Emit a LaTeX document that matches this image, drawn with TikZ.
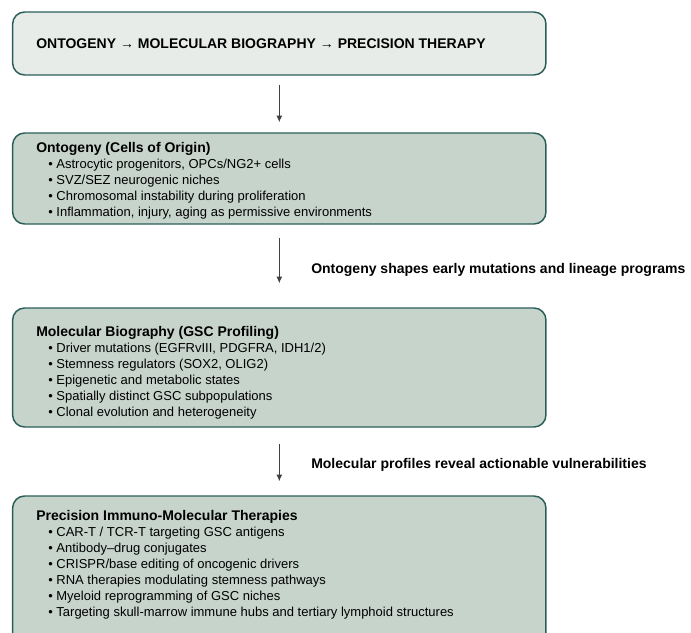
\documentclass[tikz,border=0pt]{standalone}
\usepackage{fontspec}
\setmainfont{Liberation Sans}
\usetikzlibrary{arrows.meta}
\definecolor{boxline}{HTML}{2C5E59}
\definecolor{topfill}{HTML}{E8ECE9}
\definecolor{boxfill}{HTML}{C6D4CC}
\newcommand{\bul}{\hspace*{9pt}\textbullet\ }
\newcommand{\hd}[1]{{\fontsize{10.5}{12}\selectfont\bfseries #1}}

\begin{document}
\begin{tikzpicture}[x=0.75pt, y=-0.75pt,
  stage/.style={draw=boxline, line width=1.1pt, fill=boxfill, rounded corners=9pt,
    minimum width=400pt, inner sep=0pt},
  lines/.style={anchor=north west, align=left, inner sep=0pt,
    font=\fontsize{9.75}{12}\selectfont},
  arr/.style={draw=black!75, line width=0.8pt, -{Latex[length=5pt,width=4.5pt]}},
  note/.style={anchor=base west, inner sep=0pt, font=\fontsize{10.5}{12}\selectfont\bfseries}]
\useasboundingbox (0,0) rectangle (691,632);

% stages
\path (279.3,43.5) node[stage, fill=topfill, minimum height=47.25pt] (top) {};
\path (279.3,178.5) node[stage, minimum height=68.25pt] (onto) {};
\path (279.3,367.5) node[stage, minimum height=89.25pt] (mol) {};
\path (279.3,572) node[stage, minimum height=114pt] (ther) {};

% texts
\path (36,43.5) node[anchor=west, inner sep=0pt, font=\fontsize{10.5}{12}\selectfont\bfseries] (title)
  {ONTOGENY → MOLECULAR BIOGRAPHY → PRECISION THERAPY};
\path (36,142) node[lines] (ontotext) {\hd{Ontogeny (Cells of Origin)}\\
  \bul Astrocytic progenitors, OPCs/NG2+ cells\\
  \bul SVZ/SEZ neurogenic niches\\
  \bul Chromosomal instability during proliferation\\
  \bul Inflammation, injury, aging as permissive environments};
\path (36,326) node[lines] (moltext) {\hd{Molecular Biography (GSC Profiling)}\\
  \bul Driver mutations (EGFRvIII, PDGFRA, IDH1/2)\\
  \bul Stemness regulators (SOX2, OLIG2)\\
  \bul Epigenetic and metabolic states\\
  \bul Spatially distinct GSC subpopulations\\
  \bul Clonal evolution and heterogeneity};
\path (36,510) node[lines] (thertext) {\hd{Precision Immuno-Molecular Therapies}\\
  \bul CAR-T / TCR-T targeting GSC antigens\\
  \bul Antibody–drug conjugates\\
  \bul CRISPR/base editing of oncogenic drivers\\
  \bul RNA therapies modulating stemness pathways\\
  \bul Myeloid reprogramming of GSC niches\\
  \bul Targeting skull-marrow immune hubs and tertiary lymphoid structures};

% arrows
\draw[arr, shorten <=6.75pt, shorten >=7.5pt] (top) -- (onto);
\draw[arr, shorten <=9.75pt, shorten >=18pt] (onto) -- (mol);
\draw[arr, shorten <=12pt, shorten >=10.5pt] (mol) -- (ther);
\path (311,273) node[note] (why1) {Ontogeny shapes early mutations and lineage programs};
\path (311,468) node[note] (why2) {Molecular profiles reveal actionable vulnerabilities};
\end{tikzpicture}
\end{document}
